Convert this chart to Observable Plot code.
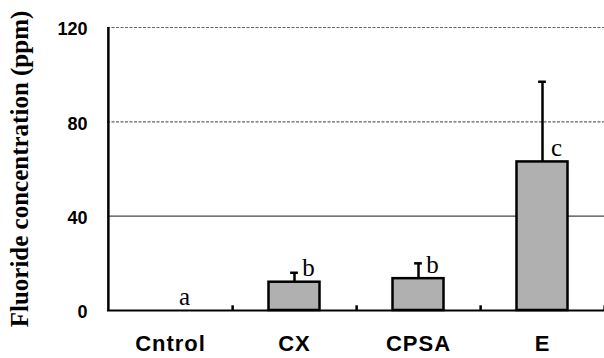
<!DOCTYPE html>
<html><head><meta charset="utf-8">
<script src="https://cdn.jsdelivr.net/npm/d3@7"></script>
<script src="https://cdn.jsdelivr.net/npm/@observablehq/plot@0.6"></script>
<style>body{margin:0;background:#fff}</style>
</head><body><div id="chart"></div>
<script>
const categories = ["Cntrol", "CX", "CPSA", "E"];
const means = [0, 12, 13.5, 63];
const errors = [0, 4, 6.5, 34];
const letters = ["a", "b", "b", "c"];
const yTicks = [0, 40, 80, 120];
const yTitle = "Fluoride concentration (ppm)";

const data = categories.map((c, i) => ({cat: c, mean: means[i], err: errors[i], letter: letters[i]}));
const W = 604, H = 358, mL = 107, mR = 0, mT = 27, mB = 48;
const bw = (W - mL - mR) / categories.length;
const barInset = 36.5;
const capInset = bw / 2 - 4;
const sans = "'Liberation Sans', Arial, sans-serif";
const serif = "'Liberation Serif', 'Times New Roman', serif";
const withErr = data.filter(d => d.err > 0);
const withBar = data.filter(d => d.mean > 0);

const chart = Plot.plot({
  width: W, height: H,
  marginLeft: mL, marginRight: mR, marginTop: mT, marginBottom: mB,
  x: {domain: categories, padding: 0},
  y: {domain: [0, 120]},
  style: {background: "#fff"},
  marks: [
    Plot.ruleY([40], {stroke: "#444", strokeWidth: 1.2}),
    Plot.ruleY([80, 120], {stroke: "#666", strokeWidth: 1.2, strokeDasharray: "3,1.5"}),
    Plot.barY(withBar, {x: "cat", y: "mean", fill: "#b0b0b0", stroke: "#000", strokeWidth: 2.5, insetLeft: barInset, insetRight: barInset}),
    Plot.ruleX(withErr, {x: "cat", y1: "mean", y2: d => d.mean + d.err, stroke: "#000", strokeWidth: 2.5}),
    Plot.tickY(withErr, {x: "cat", y: d => d.mean + d.err, stroke: "#000", strokeWidth: 2.5, insetLeft: capInset, insetRight: capInset}),
    Plot.ruleY([0], {stroke: "#000", strokeWidth: 2}),
    Plot.ruleX([categories[0]], {dx: -bw / 2, stroke: "#000", strokeWidth: 2.5}),
    Plot.ruleX(categories, {x: d => d, dx: bw / 2, y1: 0, y2: 2, stroke: "#000", strokeWidth: 2.5}),
    Plot.text(data, {x: "cat", y: "mean", text: "letter", dx: 14, dy: -6, lineAnchor: "bottom", fontSize: 25, fontFamily: serif, fill: "#000"}),
    Plot.axisY(yTicks, {tickSize: 0, tickPadding: 20, dy: 2, fontSize: 18, fontWeight: "bold", fontFamily: sans, label: null}),
    Plot.axisX({tickSize: 0, tickPadding: 25, fontSize: 22, fontWeight: "bold", fontFamily: sans, label: null}),
    Plot.text([yTitle], {frameAnchor: "left", dx: -88, rotate: -90, textAnchor: "middle", lineAnchor: "middle", fontSize: 25, fontWeight: "bold", fontFamily: serif, fill: "#000"})
  ]
});
d3.select(chart).selectAll("[aria-label='x-axis tick label'] text").attr("letter-spacing", "1px");
document.getElementById("chart").appendChild(chart);
</script>
</body></html>
